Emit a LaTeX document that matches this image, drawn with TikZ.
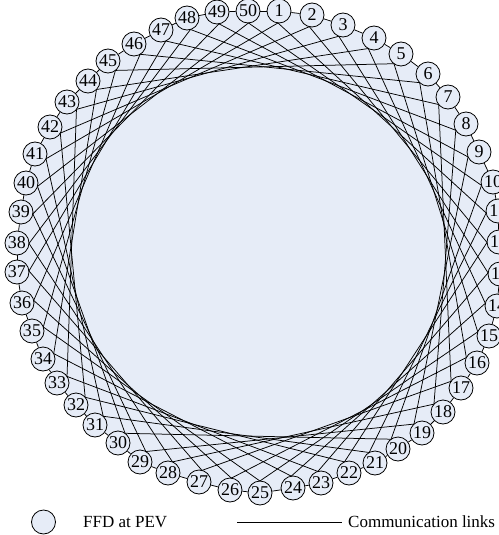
\documentclass[tikz,border=0pt]{standalone}
\usepackage{fontspec}
\setmainfont{Liberation Serif}
\usetikzlibrary{calc}
\definecolor{pevfill}{RGB}{230,236,247}

\begin{document}
\begin{tikzpicture}[x=1pt,y=-1pt,
 ffd/.style={circle,draw,line width=0.8pt,fill=pevfill,minimum size=24pt,
  inner sep=0pt,font=\fontsize{18}{18}\selectfont},
 link/.style={line width=0.75pt},
 legtext/.style={anchor=west,inner sep=0pt,font=\fontsize{17}{17}\selectfont}]
 \useasboundingbox (0,0) rectangle (498,535);
 \coordinate (O) at (258,251);
 \foreach \x/\y [count=\i] in {279/11,312/15,343/25,374/38,401/54,428/74,
  448/97,466/124,479/152,493/182,498/211,499/242,500/274,497/306,489/336,
  477/363,461/388,443/412,422/433,398/449,375/463,349/473,321/483,293/488,
  260/493,230/490,199/482,168/473,140/462,118/443,95/425,76/405,57/383,
  43/359,32/331,22/303,17/272,17/243,21/212,26/183,35/154,50/127,67/102,
  88/81,108/61,134/44,161/30,187/18,217/12,248/11}
  \coordinate (p\i) at (\x,\y);
 \fill[pevfill] (p1) \foreach \i in {2,...,50}{-- (p\i)} -- cycle;
 \foreach \i in {1,...,50}
  \node[ffd] (n\i) at (p\i) {\i};
 \foreach \i in {1,...,50}{
  \pgfmathtruncatemacro{\j}{mod(\i+9,50)+1}
  \pgfmathtruncatemacro{\k}{mod(\i,50)+1}
  \draw[link] ($(n\i)!12pt!(O)$) -- ($(n\j)!12pt!(O)$);
  \draw[link] (n\i) -- (n\k);
 }
 % legend
 \node[ffd] (legffd) at (43.5,522) {};
 \node[legtext] (legffdtext) at (83,522) {FFD at PEV};
 \coordinate (legstart) at (237,522);
 \node[legtext] (leglink) at (348,522) {Communication links};
 \draw[link] (legstart) -- ([xshift=-6pt]leglink.west);
\end{tikzpicture}
\end{document}
